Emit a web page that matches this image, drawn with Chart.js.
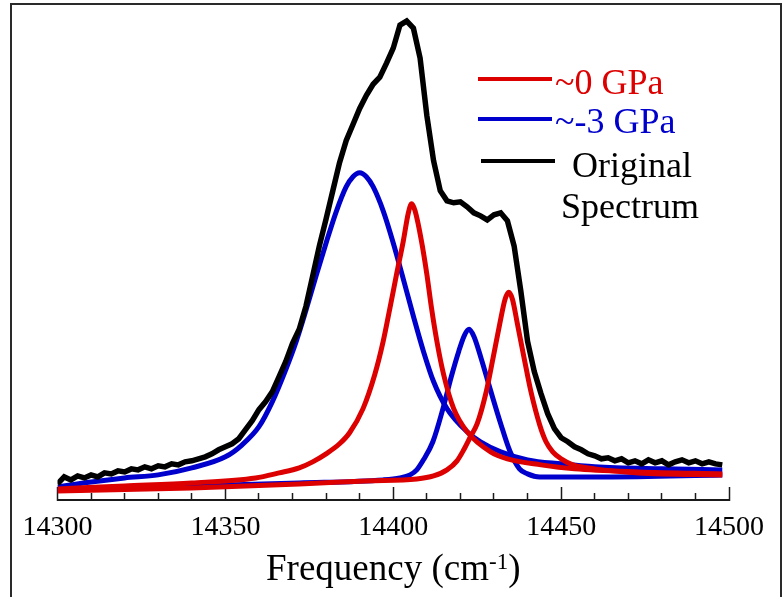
<!DOCTYPE html>
<html>
<head>
<meta charset="utf-8">
<script src="https://cdn.jsdelivr.net/npm/chart.js@4.4.1/dist/chart.umd.min.js"></script>
<style>
  html, body { margin: 0; padding: 0; background: #fff; }
</style>
</head>
<body>
<canvas id="chart" width="784" height="597"></canvas>
<script>
// original spectrum, read every 2 cm-1
const blackFreq = [14300,14302,14304,14306,14308,14310,14312,14314,14316,14318,14320,14322,14324,14326,14328,14330,14332,14334,14336,14338,
  14340,14342,14344,14346,14348,14350,14352,14354,14356,14358,14360,14362,14364,14366,14368,14370,14372,14374,14376,14378,
  14380,14382,14384,14386,14388,14390,14392,14394,14396,14398,14400,14402,14404,14406,14408,14410,14412,14414,14416,14418,
  14420,14422,14424,14426,14428,14430,14432,14434,14436,14438,14440,14442,14444,14446,14448,14450,14452,14454,14456,14458,
  14460,14462,14464,14466,14468,14470,14472,14474,14476,14478,14480,14482,14484,14486,14488,14490,14492,14494,14496,14498];
const blackInt = [16,23,20,24,22,25,23,27,26,29,28,31,30,33,31,34,33,36,35,38,
  39,41,43,46,50,53,56,61,70,79,90,98,108,123,138,156,170,193,223,253,
  280,308,336,358,374,390,403,414,421,435,450,473,477,470,440,383,338,308,298,296,
  297,292,286,283,279,284,286,278,253,208,158,128,106,86,71,62,58,53,50,46,
  44,41,42,39,41,37,39,36,40,37,39,35,38,40,37,39,36,38,36,35];

// fitted components, ~0 GPa (red)
const red1Freq = [14300,14320,14340,14359,14366,14372,14376,14380,14384,14387,14391,14394.5,14397,14399,14401,14403,14404.5,14405.5,14406.5,14408.4,
  14410,14411.4,14413,14415,14418,14422,14429,14434,14444,14454,14473,14498];
const red1Int = [11,14,17,22,27,32,38,46,56,67,91,125,158,191,225,258,286,295,288,258,
  225,191,158,125,91,68,48,41,35,31,28,26];
const red2Freq = [14300,14340,14372,14392,14407,14412,14416,14419,14421,14423,14425,14427.7,14429.7,14431.7,14433.3,14434.4,14435.5,14437,14439,14441,
  14443.6,14445.5,14447.5,14450,14453.5,14460,14473,14498];
const red2Int = [9,12,16,19,21,24,30,39,50,63,76,108,141,175,200,207,200,175,141,108,
  75,58,48,41,35,31,27,25];

// fitted components, ~-3 GPa (blue)
const blue1Freq = [14300,14310,14320,14330,14340,14350,14355,14360,14364,14368,14371,14374,14377,14380,14383,14386,14388,14390,14392,14394,
  14397,14400,14403,14406,14409,14412,14416,14422,14426,14432,14440,14450,14460,14480,14498];
const blue1Int = [13,18,22,25,32,43,55,73,98,130,157,189,223,256,287,312,322,326,322,312,
  288,256,220,183,148,118,91,68,58,48,40,36,33,31,30];
const blue2Freq = [14300,14339,14372,14397,14402,14405,14407,14409,14411.8,14414.8,14417.3,14419.5,14421.2,14422.6,14424,14426,14429,14432,14434.7,14437.6,
  14440,14443.6,14463,14498];
const blue2Int = [10,14,17,20,22,25,30,40,58,91,123,148,164,170,163,143,109,76,49,31,
  26,23,23,25];

const RED = '#dd0000', BLUE = '#0000cc', BLACK = '#000000';
const FONT = '"Liberation Serif", "Times New Roman", serif';

function pairs(xs, ys) {
  return xs.map((x, i) => ({x: x, y: ys[i]}));
}

function fitLine(xs, ys, color) {
  return {
    data: pairs(xs, ys),
    borderColor: color,
    borderWidth: 5,
    pointRadius: 0,
    cubicInterpolationMode: 'monotone',
    fill: false
  };
}

const decor = {
  id: 'decor',
  afterDraw(chart) {
    const ctx = chart.ctx;
    ctx.save();

    // frame round the figure
    ctx.strokeStyle = '#2a2a2a';
    ctx.lineWidth = 2;
    ctx.beginPath();
    ctx.moveTo(11, 597);
    ctx.lineTo(11, 4);
    ctx.lineTo(781, 4);
    ctx.lineTo(781, 597);
    ctx.stroke();

    // legend
    const items = [
      {color: RED, text: ['~0 GPa'], y: 79, tx: [555], ty: [94], x0: 478},
      {color: BLUE, text: ['~-3 GPa'], y: 119, tx: [555], ty: [133], x0: 478},
      {color: BLACK, text: ['Original', 'Spectrum'], y: 161, tx: [572, 561], ty: [177, 218], x0: 481}
    ];
    ctx.font = '36px ' + FONT;
    ctx.textBaseline = 'alphabetic';
    ctx.textAlign = 'left';
    for (const it of items) {
      ctx.strokeStyle = it.color;
      ctx.lineWidth = 4;
      ctx.beginPath();
      ctx.moveTo(it.x0, it.y);
      ctx.lineTo(it.x0 + 74, it.y);
      ctx.stroke();
      ctx.fillStyle = it.color;
      it.text.forEach((t, i) => ctx.fillText(t, it.tx[i], it.ty[i]));
    }

    // axis title with superscript
    const a = 'Frequency (cm', b = '-1', c = ')';
    ctx.fillStyle = '#000';
    ctx.font = '37px ' + FONT;
    const wa = ctx.measureText(a).width, wc = ctx.measureText(c).width;
    ctx.font = '23px ' + FONT;
    const wb = ctx.measureText(b).width;
    const area = chart.chartArea;
    let x = (area.left + area.right) / 2 - (wa + wb + wc) / 2;
    ctx.font = '37px ' + FONT;
    ctx.fillText(a, x, 580);
    x += wa;
    ctx.font = '23px ' + FONT;
    ctx.fillText(b, x, 569);
    x += wb;
    ctx.font = '37px ' + FONT;
    ctx.fillText(c, x, 580);

    ctx.restore();
  }
};

new Chart(document.getElementById('chart'), {
  type: 'line',
  data: {
    datasets: [
      {
        data: pairs(blackFreq, blackInt),
        borderColor: BLACK,
        borderWidth: 5.5,
        pointRadius: 0,
        tension: 0,
        fill: false
      },
      fitLine(red1Freq, red1Int, RED),
      fitLine(red2Freq, red2Int, RED),
      fitLine(blue1Freq, blue1Int, BLUE),
      fitLine(blue2Freq, blue2Int, BLUE)
    ]
  },
  options: {
    responsive: false,
    animation: false,
    layout: {padding: {left: 57.5, right: 55, top: 10, bottom: 28}},
    plugins: {
      legend: {display: false},
      tooltip: {enabled: false}
    },
    scales: {
      x: {
        type: 'linear',
        min: 14300,
        max: 14500,
        border: {display: true, color: '#1a1a1a', width: 2},
        grid: {
          drawOnChartArea: false,
          tickLength: -13,
          tickColor: '#1a1a1a',
          tickWidth: 1.5,
          tickBorderDash: c => (c.tick && c.tick.value % 50 === 0) ? [] : [8, 40]
        },
        ticks: {
          stepSize: 10,
          autoSkip: false,
          maxRotation: 0,
          padding: 20,
          color: '#000',
          font: {family: FONT, size: 28, lineHeight: 1.5},
          callback: v => v % 50 === 0 ? String(v) : ''
        }
      },
      y: {display: false, min: 0, max: 488}
    }
  },
  plugins: [decor]
});
</script>
</body>
</html>
